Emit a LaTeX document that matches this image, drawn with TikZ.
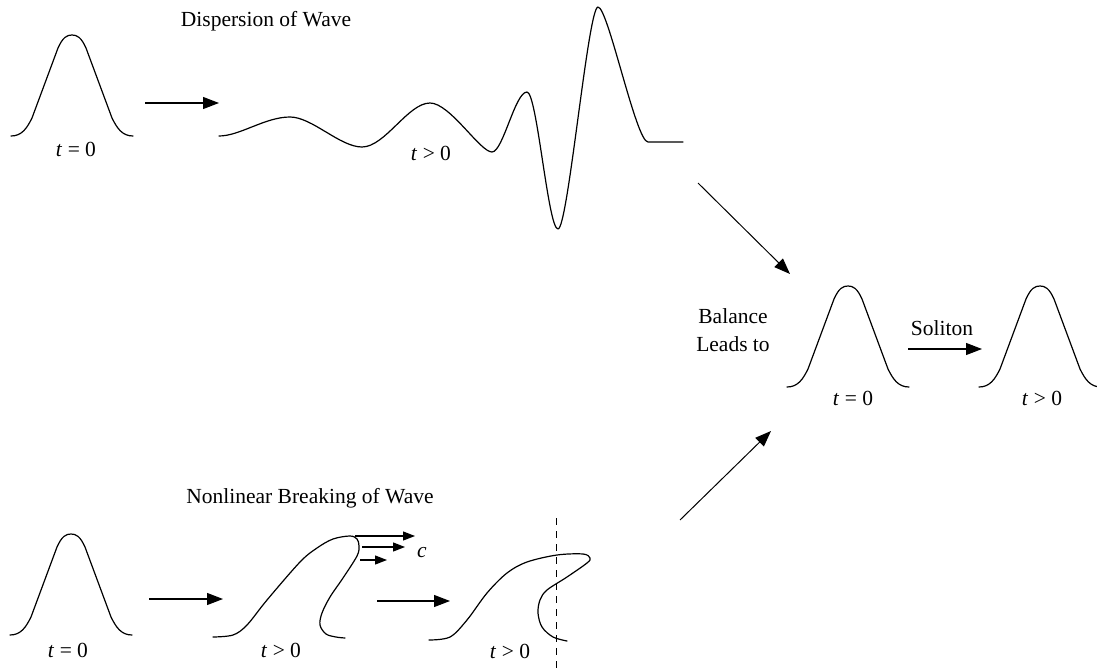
\documentclass[tikz,border=0pt]{standalone}
\usepackage{fontspec}
\setmainfont{Liberation Serif}
\usetikzlibrary{arrows.meta}
\tikzset{
  wave/.style={line width=1.2pt, line join=round, line cap=round},
  bigarrow/.style={line width=1.2pt, -{Triangle[length=16pt,width=12pt]}},
  smallarrow/.style={line width=1.2pt, -{Triangle[length=12pt,width=9pt]}},
  lbl/.style={font=\fontsize{21.5}{28}\selectfont, inner sep=0pt, anchor=base},
  bell/.pic={\draw[wave] (-61,0) .. controls (-50,0) and (-45,-8) .. (-40,-18)
      -- (-14,-88) .. controls (-9,-99) and (-5,-101) .. (0,-101)
      .. controls (5,-101) and (9,-99) .. (14,-88)
      -- (40,-18) .. controls (45,-8) and (50,0) .. (61,0);}
}
\begin{document}
\begin{tikzpicture}[x=1pt,y=-1pt]
\useasboundingbox (0,0) rectangle (1097,669);

% ---------- Dispersion row ----------
\node[lbl] (disptitle) at (266,26.5) {Dispersion of Wave};
\pic at (72,136) {bell};
\node[lbl] (l1) at (76,156) {\textit{t} = 0};
\coordinate (a1s) at (145,103);
\coordinate (a1e) at (219,103);
\draw[bigarrow] (a1s) -- (a1e);
\draw[wave] (219,136) .. controls (240,136) and (265,117) .. (290,117)
  .. controls (312,117) and (340,147) .. (362,147)
  .. controls (385,147) and (408,103) .. (430,103)
  .. controls (450,103) and (480,152) .. (492,152)
  .. controls (503,152) and (515,92) .. (527,92)
  .. controls (537,92) and (548,229) .. (558,229)
  .. controls (568,229) and (588,7) .. (598,7)
  .. controls (608,7) and (636,142) .. (648,142) -- (683,142);
\node[lbl] (l2) at (431,160) {\textit{t} > 0};

% ---------- Breaking row ----------
\node[lbl] (breaktitle) at (310,503) {Nonlinear Breaking of Wave};
\pic at (71,635) {bell};
\node[lbl] (l3) at (68,657) {\textit{t} = 0};
\coordinate (a2s) at (149,599);
\coordinate (a2e) at (223,599);
\draw[bigarrow] (a2s) -- (a2e);
\draw[wave] plot[smooth, tension=0.55] coordinates {
  (213,637) (233,635) (247,625) (267,600) (300,562) (317,548) (333,539)
  (350,536) (357,539) (359,546) (357,556) (343,578) (330,597) (322,613)
  (320,625) (326,634) (336,637) (345,638)};
\coordinate (c1s) at (355,536); \coordinate (c1e) at (415,536);
\coordinate (c2s) at (362,547); \coordinate (c2e) at (405,547);
\coordinate (c3s) at (360,560); \coordinate (c3e) at (387,560);
\draw[smallarrow] (c1s) -- (c1e);
\draw[smallarrow] (c2s) -- (c2e);
\draw[smallarrow] (c3s) -- (c3e);
\node[lbl] (cl) at (422,557) {\textit{c}};
\node[lbl] (l4) at (281,657) {\textit{t} > 0};
\coordinate (a3s) at (377,601);
\coordinate (a3e) at (450,601);
\draw[bigarrow] (a3s) -- (a3e);
\draw[wave] plot[smooth, tension=0.55] coordinates {
  (429,640) (450,637) (467,620) (487,593) (507,573) (527,562) (557,555)
  (583,554) (590,558) (587,563) (567,577) (547,590) (540,600) (538,613)
  (542,627) (553,637) (567,641)};
\coordinate (dtop) at (556,518);
\coordinate (dbot) at (556,669);
\draw[line width=0.9pt, dash pattern=on 7pt off 6pt] (dtop) -- (dbot);
\node[lbl] (l5) at (510,658) {\textit{t} > 0};

% ---------- Result ----------
\coordinate (d1s) at (698,183);
\coordinate (d1e) at (790,274);
\draw[bigarrow, line width=1pt] (d1s) -- (d1e);
\coordinate (d2s) at (680,520);
\coordinate (d2e) at (771,431);
\draw[bigarrow, line width=1pt] (d2s) -- (d2e);
\node[lbl, anchor=center, align=center] (bal) at (733,330) {Balance\\Leads to};
\pic at (848,387) {bell};
\node[lbl] (l6) at (853,405) {\textit{t} = 0};
\node[lbl] (sol) at (942,335) {Soliton};
\coordinate (a4s) at (908,349);
\coordinate (a4e) at (982,349);
\draw[bigarrow] (a4s) -- (a4e);
\pic at (1040,387) {bell};
\node[lbl] (l7) at (1042,405) {\textit{t} > 0};
\end{tikzpicture}
\end{document}
